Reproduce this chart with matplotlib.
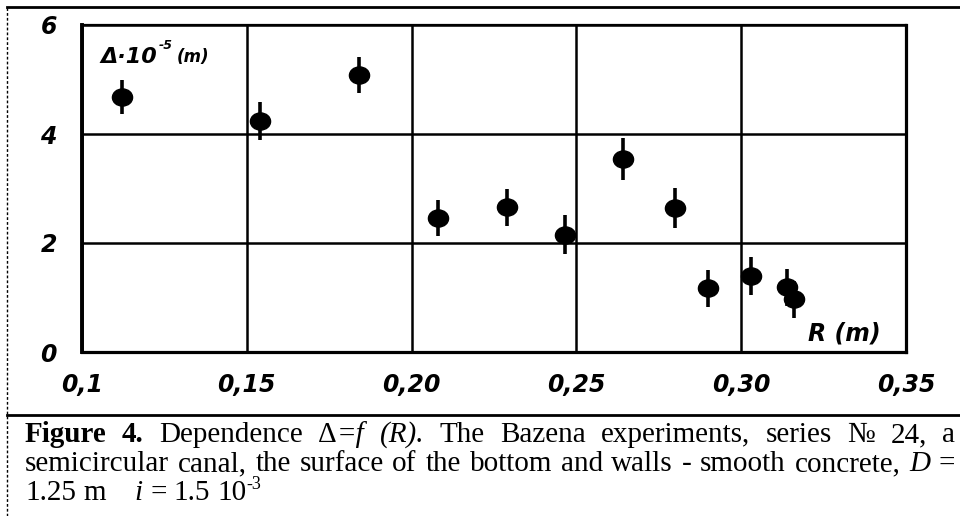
import matplotlib
matplotlib.use("Agg")
import matplotlib.pyplot as plt
from matplotlib.path import Path
from matplotlib.transforms import Affine2D
from matplotlib.lines import Line2D

W, H = 960, 516

# data
radius_m = [0.112, 0.154, 0.184, 0.208, 0.229, 0.2465, 0.264, 0.280, 0.290, 0.303, 0.314, 0.316]
delta = [4.68, 4.24, 5.09, 2.46, 2.66, 2.15, 3.54, 2.64, 1.17, 1.39, 1.19, 0.97]
delta_err = [0.32, 0.35, 0.33, 0.33, 0.34, 0.36, 0.39, 0.37, 0.34, 0.35, 0.34, 0.34]

x_ticks = [0.10, 0.15, 0.20, 0.25, 0.30, 0.35]
x_tick_labels = ["0,1", "0,15", "0,20", "0,25", "0,30", "0,35"]
y_ticks = [0, 2, 4, 6]
y_tick_labels = ["0", "2", "4", "6"]

# caption: lines of words, each word a list of (text, style)
caption = [
    [[("Figure", "b")], [("4.", "b")], [("Dependence", "r")], [("Δ", "r"), ("=f", "i")],
     [("(R).", "i")], [("The", "r")], [("Bazena", "r")], [("experiments,", "r")],
     [("series", "r")], [("№", "r")], [("24,", "r")], [("a", "r")]],
    [[("semicircular", "r")], [("canal,", "r")], [("the", "r")], [("surface", "r")],
     [("of", "r")], [("the", "r")], [("bottom", "r")], [("and", "r")], [("walls", "r")],
     [("-", "r")], [("smooth", "r")], [("concrete,", "r")], [("D", "i")], [("=", "r")]],
    [[("1.25", "r")], [("m", "r")], [("", "r")], [("", "r")], [("", "r")], [("i", "i")],
     [("=", "r")], [("1.5", "r")], [("10", "r"), ("-3", "sup")]],
]
caption_baselines = [442, 471, 500]
justify = [True, True, False]

SERIF = ["Liberation Serif", "DejaVu Serif"]
SANS = ["DejaVu Sans"]
cap_styles = {
    "r": (dict(family=SERIF, size=21), 0),
    "b": (dict(family=SERIF, size=21, weight="bold"), 0),
    "i": (dict(family=SERIF, size=21, style="italic"), 0),
    "sup": (dict(family=SERIF, size=13), 11),
}


def px(x, y):
    return x / W, 1 - y / H


fig = plt.figure(figsize=(9.6, 5.16), dpi=100)
renderer = fig.canvas.get_renderer()


def put_segments(x, y, segs):
    # segs: (text, props, dy); returns list of artists and total width
    arts = []
    cx = x
    for s, props, dy in segs:
        t = fig.text(*px(cx, y - dy), s, ha="left", va="baseline", **props)
        w = t.get_window_extent(renderer).width if s else 0
        arts.append((t, cx - x, dy))
        cx += w
    return arts, cx - x


# axes
ax = fig.add_axes([82 / W, 1 - 352 / H, (906 - 82) / W, (352 - 25) / H])
ax.set_xlim(0.1, 0.35)
ax.set_ylim(0, 6)
ax.set_xticks(x_ticks)
ax.set_xticklabels(x_tick_labels)
ax.set_yticks(y_ticks)
ax.set_yticklabels(y_tick_labels)
ax.tick_params(length=0, labelsize=17)
ax.tick_params(axis="x", pad=15)
ax.tick_params(axis="y", pad=18)
for lab in ax.get_xticklabels() + ax.get_yticklabels():
    lab.set_fontweight("bold")
    lab.set_fontstyle("italic")
    lab.set_family(SANS)
ax.grid(True, color="black", lw=1.8)
ax.set_axisbelow(True)
for side, lw in [("left", 2.8), ("bottom", 2.3), ("top", 1.6), ("right", 2.3)]:
    ax.spines[side].set_linewidth(lw)
    ax.spines[side].set_color("black")

ellipse = Path.unit_circle().transformed(Affine2D().scale(1.0, 0.85))
ax.errorbar(radius_m, delta, yerr=delta_err, fmt="none", ecolor="black",
            elinewidth=2.6, capsize=0, zorder=3)
ax.plot(radius_m, delta, ls="none", marker=ellipse, ms=14.5, color="black", zorder=4)

# axis titles inside the plot
bi = dict(family=SANS, weight="bold", style="italic")
arts, w1 = put_segments(100, 63, [("Δ·10", dict(size=16, **bi), 0)])
arts, w2 = put_segments(100 + w1 + 2, 63, [("-5", dict(size=9, **bi), 14)])
put_segments(100 + w1 + w2 + 6, 62, [("(m)", dict(size=12, **bi), 0)])
put_segments(808, 340, [("R (m)", dict(size=17, **bi), 0)])

# caption
probe_a = fig.text(0, 0, "aa", **cap_styles["r"][0])
probe_b = fig.text(0, 0, "a a", **cap_styles["r"][0])
space_w = probe_b.get_window_extent(renderer).width - probe_a.get_window_extent(renderer).width
probe_a.remove()
probe_b.remove()

left, right = 25, 955
for words, base, just in zip(caption, caption_baselines, justify):
    placed = []
    total = 0
    for word in words:
        segs = [(s, cap_styles[st][0], cap_styles[st][1]) for s, st in word]
        arts, w = put_segments(left, base, segs)
        placed.append((arts, w))
        total += w
    gap = (right - left - total) / (len(words) - 1) if just else space_w
    cx = left
    for arts, w in placed:
        for t, off, dy in arts:
            t.set_position(px(cx + off, base - dy))
        cx += w + gap

# frame lines of the figure box
fig.add_artist(Line2D([7 / W, 1], [1 - 7 / H, 1 - 7 / H], transform=fig.transFigure,
                      color="black", lw=2))
fig.add_artist(Line2D([7 / W, 1], [1 - 415 / H, 1 - 415 / H], transform=fig.transFigure,
                      color="black", lw=2))
fig.add_artist(Line2D([7 / W, 7 / W], [0, 1 - 7 / H], transform=fig.transFigure,
                      color="black", lw=1, ls=(0, (2, 1.5))))

fig.savefig("out.png", dpi=100)
